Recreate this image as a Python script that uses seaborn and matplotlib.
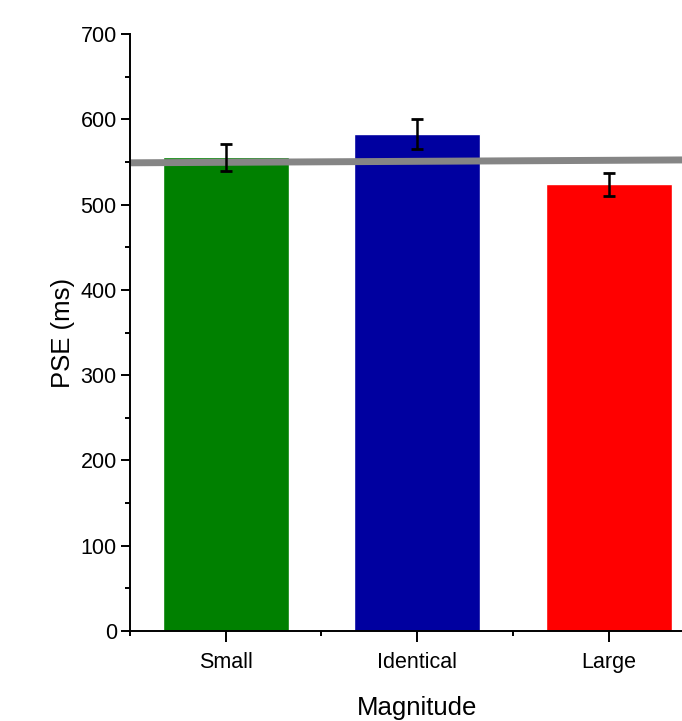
import pandas as pd
import seaborn as sns
import matplotlib.pyplot as plt

# data
categories = ['Small', 'Identical', 'Large']
pse_mean = [556, 583, 524]
err_low = [539, 565, 510]
err_high = [571, 600, 537]
bar_colors = ['#008000', '#0000A0', '#FF0000']

# grey reference line (start and end of the axis)
line_x = [-0.5, 2.5]
line_y = [549, 552.5]

df = pd.DataFrame({'Magnitude': categories, 'PSE': pse_mean})

sns.set_style('ticks')
plt.rcParams['font.family'] = ['Liberation Sans', 'DejaVu Sans']
plt.rcParams['text.color'] = 'black'
plt.rcParams['axes.labelcolor'] = 'black'
plt.rcParams['xtick.color'] = 'black'
plt.rcParams['ytick.color'] = 'black'

fig = plt.figure(figsize=(6.82, 7.21), dpi=100)
# axes runs a little past the right edge, like the original crop
ax = fig.add_axes([0.1906, 0.1248, 0.8424, 0.828])

sns.barplot(data=df, x='Magnitude', y='PSE', hue='Magnitude',
            palette=bar_colors, errorbar=None, width=0.66,
            legend=False, ax=ax, zorder=1, saturation=1)

ax.plot(line_x, line_y, color='#858585', lw=5, solid_capstyle='butt',
        zorder=2, clip_on=True)

yerr = [[m - lo for m, lo in zip(pse_mean, err_low)],
        [hi - m for m, hi in zip(pse_mean, err_high)]]
ax.errorbar(range(len(categories)), pse_mean, yerr=yerr, fmt='none',
            ecolor='black', elinewidth=1.8, capsize=4, capthick=2, zorder=3)

ax.set_xlim(-0.5, 2.5)
ax.set_ylim(0, 700)
ax.set_yticks(range(0, 701, 100))
ax.set_yticks(range(50, 701, 100), minor=True)
ax.set_xticks([-0.5, 0.5, 1.5, 2.5], minor=True)

ax.set_xlabel('Magnitude', fontsize=18.5, labelpad=17)
ax.set_ylabel('PSE (ms)', fontsize=18.5, labelpad=4)

ax.tick_params(axis='both', which='major', direction='out', width=1.4,
               labelsize=15.5)
ax.tick_params(axis='y', which='major', length=6.5, pad=3)
ax.tick_params(axis='x', which='major', length=8, pad=7)
ax.tick_params(axis='both', which='minor', direction='out', length=3.5,
               width=1.4)

for side in ['top', 'right']:
    ax.spines[side].set_visible(False)
for side in ['left', 'bottom']:
    ax.spines[side].set_linewidth(1.4)
    ax.spines[side].set_color('black')

fig.savefig('out.png', dpi=100)
